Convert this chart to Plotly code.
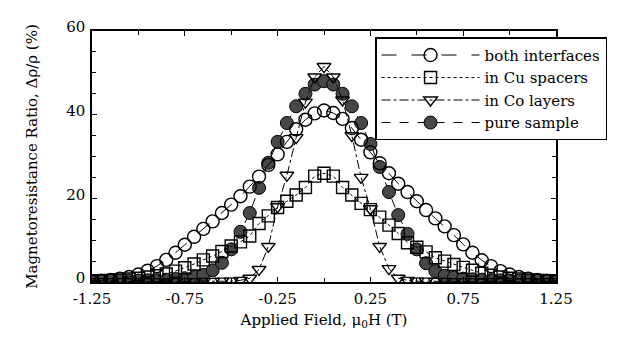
import plotly.graph_objects as go

field = [-1.25, -1.20, -1.15, -1.10, -1.05, -1.00, -0.95, -0.90, -0.85, -0.80,
         -0.75, -0.70, -0.65, -0.60, -0.55, -0.50, -0.45, -0.40, -0.35, -0.30,
         -0.25, -0.20, -0.15, -0.10, -0.05, 0.00, 0.05, 0.10, 0.15, 0.20,
         0.25, 0.30, 0.35, 0.40, 0.45, 0.50, 0.55, 0.60, 0.65, 0.70,
         0.75, 0.80, 0.85, 0.90, 0.95, 1.00, 1.05, 1.10, 1.15, 1.20, 1.25]

both_interfaces = [0.2, 0.3, 0.5, 0.8, 1.2, 1.8, 2.7, 3.8, 5.3, 7.0,
                   8.9, 10.8, 12.7, 14.5, 16.5, 18.5, 20.5, 22.8, 25.2, 28.0,
                   30.5, 33.5, 36.5, 38.8, 40.3, 41.0, 40.4, 39.0, 36.8, 34.0,
                   31.0, 28.4, 26.0, 23.5, 21.5, 19.3, 17.2, 15.2, 13.3, 11.2,
                   9.0, 7.0, 5.2, 3.8, 2.6, 1.8, 1.2, 0.8, 0.5, 0.3, 0.2]

cu_spacers = [0.3, 0.3, 0.4, 0.5, 0.7, 0.9, 1.2, 1.5, 1.9, 2.6,
              3.4, 4.3, 5.3, 6.2, 7.3, 8.6, 9.6, 11.0, 14.0, 15.8,
              17.8, 19.3, 20.8, 22.6, 25.3, 26.0, 25.3, 22.6, 20.8, 18.8,
              17.3, 15.5, 13.6, 11.6, 9.4, 8.3, 7.2, 5.8, 5.0, 4.2,
              3.5, 2.8, 2.1, 1.6, 1.2, 0.9, 0.7, 0.5, 0.4, 0.3, 0.3]

co_layers = [0.1, 0.1, 0.1, 0.1, 0.1, 0.1, 0.1, 0.1, 0.1, 0.1,
             0.1, 0.1, 0.15, 0.15, 0.2, 0.2, 0.4, 0.9, 3.0, 8.5,
             18.0, 25.5, 34.5, 43.0, 49.0, 51.5, 49.0, 43.5, 35.0, 25.0,
             17.5, 8.5, 3.2, 0.9, 0.4, 0.2, 0.2, 0.15, 0.15, 0.1,
             0.1, 0.1, 0.1, 0.1, 0.1, 0.1, 0.1, 0.1, 0.1, 0.1, 0.1]

pure_sample = [0.2, 0.2, 0.25, 0.3, 0.3, 0.35, 0.4, 0.45, 0.55, 0.7,
               0.9, 1.2, 1.7, 2.8, 4.6, 7.8, 12.0, 16.5, 22.5, 28.5,
               33.5, 38.0, 42.0, 45.0, 47.2, 48.0, 47.2, 45.0, 42.0, 38.0,
               33.0, 27.5, 21.5, 16.0, 11.5, 7.8, 4.5, 2.6, 1.5, 1.1,
               0.8, 0.65, 0.55, 0.45, 0.4, 0.35, 0.3, 0.3, 0.25, 0.2, 0.2]

x_ticks = [-1.25, -0.75, -0.25, 0.25, 0.75, 1.25]
x_tick_labels = ["-1.25", "-0.75", "-0.25", "0.25", "0.75", "1.25"]
y_ticks = [0, 20, 40, 60]

FONT = "DejaVu Serif"

fig = go.Figure()

fig.add_trace(go.Scatter(
    x=field, y=pure_sample, name="pure sample", mode="lines+markers",
    line=dict(color="black", width=1, dash="dash"),
    marker=dict(symbol="circle", size=13, color="#474747",
                line=dict(color="black", width=1)),
    legendrank=4))
fig.add_trace(go.Scatter(
    x=field, y=both_interfaces, name="both interfaces", mode="lines+markers",
    line=dict(color="black", width=1, dash="longdash"),
    marker=dict(symbol="circle-open", size=13, color="black",
                line=dict(color="black", width=1.4)),
    legendrank=1))
fig.add_trace(go.Scatter(
    x=field, y=cu_spacers, name="in Cu spacers", mode="lines+markers",
    line=dict(color="black", width=1, dash="dot"),
    marker=dict(symbol="square-open", size=12, color="black",
                line=dict(color="black", width=1.4)),
    legendrank=2))
fig.add_trace(go.Scatter(
    x=field, y=co_layers, name="in Co layers", mode="lines+markers",
    line=dict(color="black", width=1, dash="dashdot"),
    marker=dict(symbol="triangle-down-open", size=12, color="black",
                line=dict(color="black", width=1.4)),
    legendrank=3))

axis_common = dict(
    showline=True, linecolor="black", linewidth=1.5, mirror="ticks",
    ticks="inside", ticklen=5, tickwidth=1, tickcolor="black",
    showgrid=False, zeroline=False,
    tickfont=dict(family=FONT, size=15, color="black"),
)

fig.update_xaxes(
    range=[-1.25, 1.25], tickvals=x_ticks, ticktext=x_tick_labels,
    ticklabelstandoff=2,
    minor=dict(dtick=0.25, tick0=-1.25, ticks="inside", ticklen=4,
               tickcolor="black", showgrid=False),
    title=dict(text="Applied Field, μ<sub>0</sub>H (T)", standoff=8,
               font=dict(family=FONT, size=15, color="black")),
    **axis_common)
fig.update_yaxes(
    range=[0, 60], tickvals=y_ticks,
    ticklabelshift=-4, ticklabelstandoff=2, ticklabeloverflow="allow",
    minor=dict(dtick=5, tick0=0, ticks="inside", ticklen=4,
               tickcolor="black", showgrid=False),
    title=dict(text="Magnetoresistance Ratio, Δρ/ρ (%)", standoff=25,
               font=dict(family=FONT, size=15, color="black")),
    **axis_common)

fig.update_layout(
    width=618, height=344,
    margin=dict(l=84, r=70, t=10, b=70),
    plot_bgcolor="white", paper_bgcolor="white",
    font=dict(family=FONT, color="black"),
    showlegend=True,
    legend=dict(x=0.61, y=0.975, xanchor="left", yanchor="top",
                bgcolor="white", bordercolor="black", borderwidth=1.5,
                font=dict(family=FONT, size=15, color="black"),
                itemwidth=98, tracegroupgap=0),
)

fig.write_html("out.html")
